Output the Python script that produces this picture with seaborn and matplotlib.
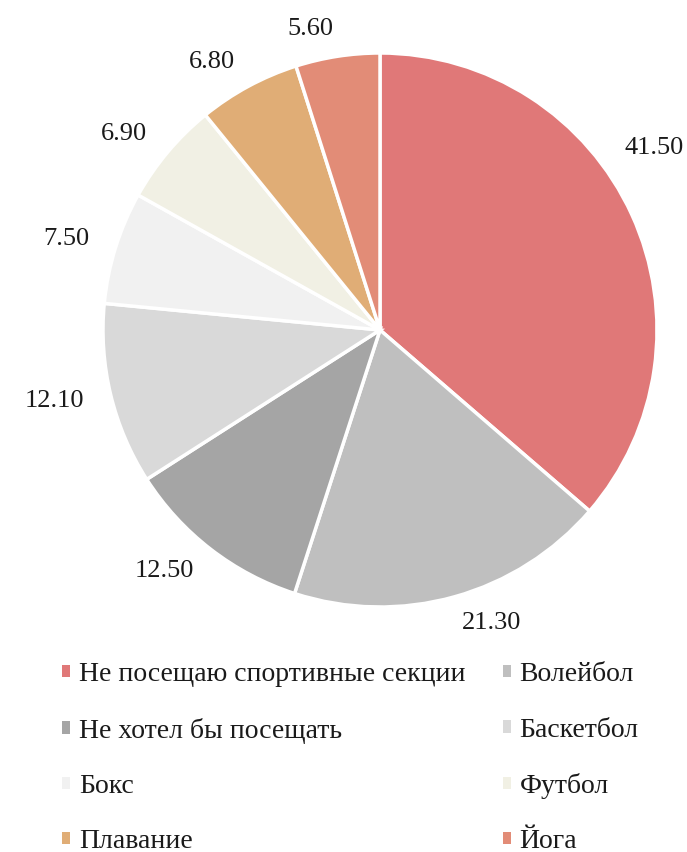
import numpy as np
import matplotlib
matplotlib.use('Agg')
import matplotlib.pyplot as plt
import seaborn as sns
from matplotlib.patches import Patch

# данные
categories = ['Не посещаю спортивные секции', 'Волейбол', 'Не хотел бы посещать',
              'Баскетбол', 'Бокс', 'Футбол', 'Плавание', 'Йога']
values = [41.50, 21.30, 12.50, 12.10, 7.50, 6.90, 6.80, 5.60]
colors = ['#E07878', '#BFBFBF', '#A5A5A5', '#D9D9D9',
          '#F1F1F1', '#F1F0E4', '#E0AD76', '#E28C77']

sns.set_style('white')
plt.rcParams['font.family'] = ['Liberation Serif', 'DejaVu Serif']

fig = plt.figure(figsize=(6.87, 8.52), dpi=100)
# центр пирога (380, 330) px, радиус 277 px
cx, cy, r = 380 / 687, 1 - 330 / 852, 277
ax = fig.add_axes([cx - r / 687, cy - r / 852, 2 * r / 687, 2 * r / 852])

wedges, texts = ax.pie(
    values, colors=colors, startangle=90, counterclock=False,
    labels=[f'{v:.2f}' for v in values], labeldistance=1.1,
    wedgeprops=dict(edgecolor='white', linewidth=2.5),
    textprops=dict(fontsize=19, color='#1a1a1a'),
)
# подпись крупного сектора сдвинута вверх, как в оригинале
w = wedges[0]
ang = np.deg2rad((w.theta1 + w.theta2) / 2 + 12)
texts[0].set_position((1.1 * np.cos(ang), 1.1 * np.sin(ang)))

ax.set_xlim(-1, 1)
ax.set_ylim(-1, 1)
ax.axis('off')

# легенда построчно (matplotlib заполняет по столбцам)
order = [0, 2, 4, 6, 1, 3, 5, 7]
handles = [Patch(facecolor=colors[i], edgecolor='none') for i in order]
labels = [categories[i] for i in order]
fig.legend(handles, labels, ncol=2, loc='upper left',
           bbox_to_anchor=(0.054, 0.252), frameon=False,
           fontsize=20, handlelength=0.3, handleheight=0.3,
           handletextpad=0.3, labelspacing=1.09, columnspacing=1.35,
           labelcolor='#1a1a1a')

fig.savefig('out.png', dpi=100)
